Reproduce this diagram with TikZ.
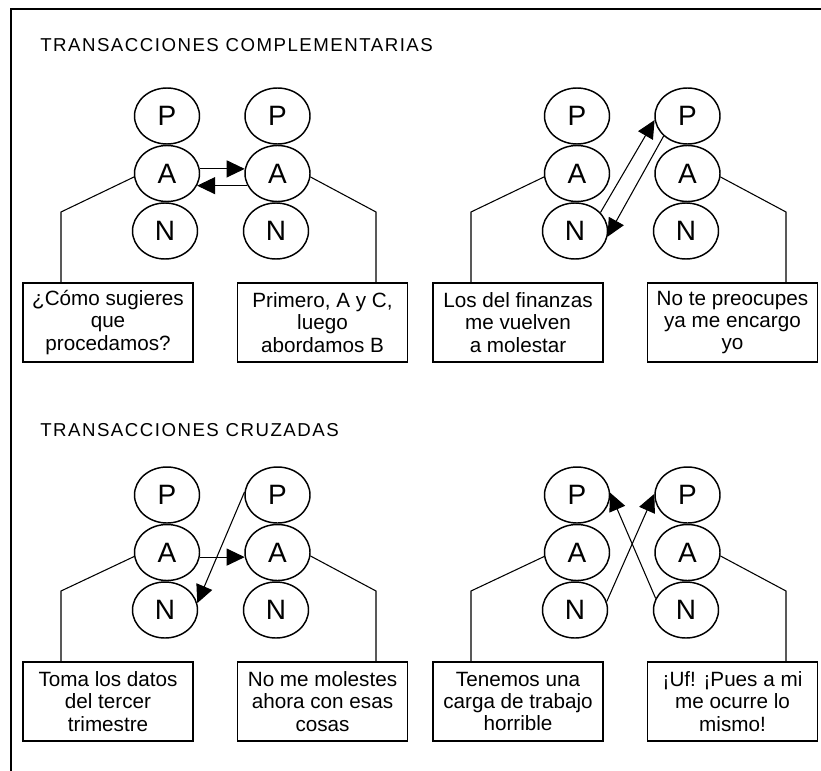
\documentclass[tikz,border=0pt]{standalone}
\usepackage{fontspec}
\setmainfont{Liberation Sans}
\usetikzlibrary{arrows.meta,shapes.geometric}
\begin{document}
\begin{tikzpicture}[x=0.75pt,y=-0.75pt,
  ego/.style={ellipse,draw,line width=1.1pt,minimum width=48.75pt,minimum height=42pt,inner sep=0pt,font=\fontsize{21}{21}\selectfont},
  say/.style={draw,line width=1.1pt,minimum width=127.5pt,minimum height=59.25pt,align=center,inner sep=0pt,font=\fontsize{15.5}{16.7}\selectfont},
  lead/.style={line width=0.8pt},
  tx/.style={line width=0.8pt,-{Triangle[length=13.5pt,width=12.75pt]}},
  ttl/.style={anchor=base west,inner sep=0pt,font=\fontsize{14}{16}\selectfont\addfontfeature{LetterSpace=8}}
]
\useasboundingbox (0,0) rectangle (821,771);
\draw[line width=1.1pt] (821,9) -- (11,9) -- (11,771);

\node[ttl] (t1) at (40,51.5) {TRANSACCIONES COMPLEMENTARIAS};
\node[ttl] (t2) at (40,436.5) {TRANSACCIONES CRUZADAS};

% panel a
\begin{scope}
\node[ego] (aP1) at (167,116) {P};
\node[ego] (aA1) at (167,173.5) {A};
\node[ego] (aN1) at (165,231) {N};
\node[ego] (aP2) at (277.5,116) {P};
\node[ego] (aA2) at (277.5,173.5) {A};
\node[ego] (aN2) at (276,231) {N};
\node[say] (aS1) at (108,322.5) {¿Cómo sugieres\\que\\procedamos?};
\node[say] (aS2) at (322.5,322.5) {Primero, A y C,\\luego\\abordamos B};
\coordinate (aL) at (61,212);
\coordinate (aR) at (376,212);
\draw[lead] (aA1.186) -- (aL) -- (aL |- aS1.north);
\draw[lead] (aA2.-6) -- (aR) -- (aR |- aS2.north);
\draw[tx] (aA1.8) -- (aA2.172);
\draw[tx] (aA2.202) -- (aA1.-22);
\end{scope}

% panel b
\begin{scope}[shift={(410,0)}]
\node[ego] (bP1) at (167,116) {P};
\node[ego] (bA1) at (167,173.5) {A};
\node[ego] (bN1) at (165,231) {N};
\node[ego] (bP2) at (277.5,116) {P};
\node[ego] (bA2) at (277.5,173.5) {A};
\node[ego] (bN2) at (276,231) {N};
\node[say] (bS1) at (108,322.5) {Los del finanzas\\me vuelven\\a molestar};
\node[say] (bS2) at (322.5,322.5) {No te preocupes\\ya me encargo\\yo};
\coordinate (bL) at (61,212);
\coordinate (bR) at (376,212);
\draw[lead] (bA1.186) -- (bL) -- (bL |- bS1.north);
\draw[lead] (bA2.-6) -- (bR) -- (bR |- bS2.north);
\draw[tx] (bN1.36) -- (bP2.187);
\draw[tx] (bP2.220) -- (bN1.-10);
\end{scope}

% panel c
\begin{scope}[shift={(0,379)}]
\node[ego] (cP1) at (167,116) {P};
\node[ego] (cA1) at (167,173.5) {A};
\node[ego] (cN1) at (165,231) {N};
\node[ego] (cP2) at (277.5,116) {P};
\node[ego] (cA2) at (277.5,173.5) {A};
\node[ego] (cN2) at (276,231) {N};
\node[say] (cS1) at (108,322.5) {Toma los datos\\del tercer\\trimestre};
\node[say] (cS2) at (322.5,322.5) {No me molestes\\ahora con esas\\cosas};
\coordinate (cL) at (61,212);
\coordinate (cR) at (376,212);
\draw[lead] (cA1.187) -- (cL) -- (cL |- cS1.north);
\draw[lead] (cA2.-6) -- (cR) -- (cR |- cS2.north);
\draw[tx] (cA1.-8) -- (cA2.188);
\draw[tx] (cP2.175) -- (cN1.12);
\end{scope}

% panel d
\begin{scope}[shift={(410,379)}]
\node[ego] (dP1) at (167,116) {P};
\node[ego] (dA1) at (167,173.5) {A};
\node[ego] (dN1) at (165,231) {N};
\node[ego] (dP2) at (277.5,116) {P};
\node[ego] (dA2) at (277.5,173.5) {A};
\node[ego] (dN2) at (276,231) {N};
\node[say] (dS1) at (108,322.5) {Tenemos una\\carga de trabajo\\horrible};
\node[say] (dS2) at (322.5,322.5) {¡Uf! ¡Pues a mi\\me ocurre lo\\mismo!};
\coordinate (dL) at (61,212);
\coordinate (dR) at (376,212);
\draw[lead] (dA1.187) -- (dL) -- (dL |- dS1.north);
\draw[lead] (dA2.-6) -- (dR) -- (dR |- dS2.north);
\draw[tx] (dN1.15) -- (dP2.178);
\draw[tx] (dN2.159) -- (dP1.4);
\end{scope}
\end{tikzpicture}
\end{document}
